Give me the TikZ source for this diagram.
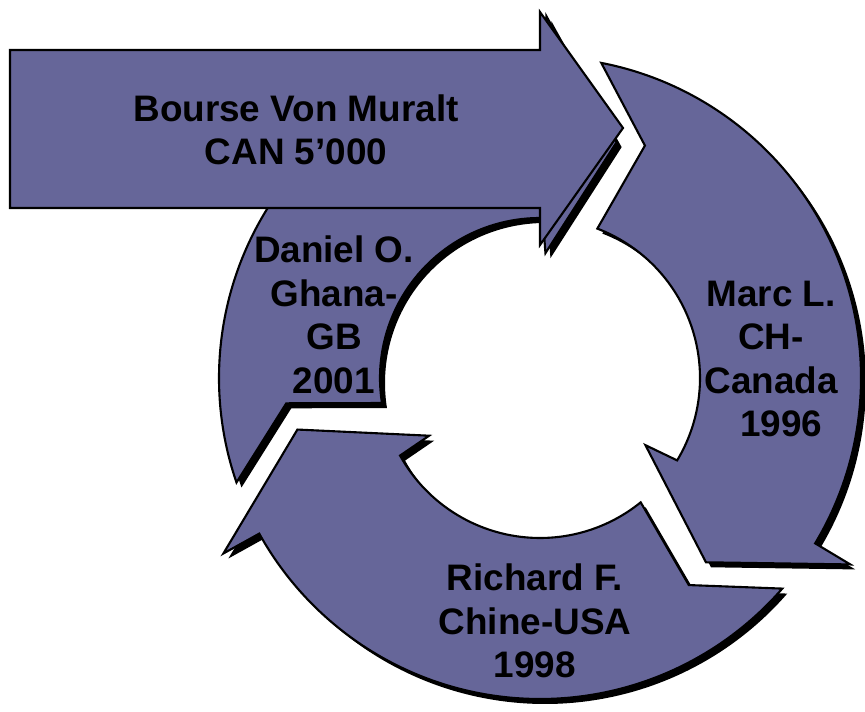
\documentclass[tikz,border=0pt]{standalone}
\usepackage{fontspec}
\setmainfont{Liberation Sans}
\definecolor{ringfill}{HTML}{666699}
% one piece of the ring, tail notch at the top, head at lower right
\newcommand{\ringpart}{(79:321) arc[start angle=79, end angle=-31, radius=321] -- (-31:362) -- (-48:248) -- (-32.5:125) -- (-31:160) arc[start angle=-31, end angle=69, radius=160] -- (65.7:255) -- cycle}
\begin{document}
\begin{tikzpicture}[x=0.02cm, y=0.02cm,
  part/.style={fill=ringfill, draw=black, line width=1.2pt},
  lbl/.style={align=center, font=\bfseries\fontsize{21}{24.8}\selectfont}]
\useasboundingbox (0,0) rectangle (865,712);
\foreach \a in {120,-120,0}{
   \fill[black, shift={(545,329)}, rotate=\a] \ringpart;
   \draw[part, shift={(540,334)}, rotate=\a] \ringpart;
}
\draw[part] (10,662) -- (540,662) -- (540,700) -- (623,584) -- (540,467) -- (540,504) -- (10,504) -- cycle;
\node[lbl] (muralt) at (296,582) {Bourse Von Muralt\\CAN 5’000};
\node[lbl] (marc) at (771,353) {Marc L.\\CH-\\Canada\\\hspace*{0.55em}1996};
\node[lbl] (daniel) at (334,397) {Daniel O.\\Ghana-\\GB\\2001};
\node[lbl] (richard) at (535,91) {Richard F.\\Chine-USA\\1998};
\end{tikzpicture}
\end{document}
